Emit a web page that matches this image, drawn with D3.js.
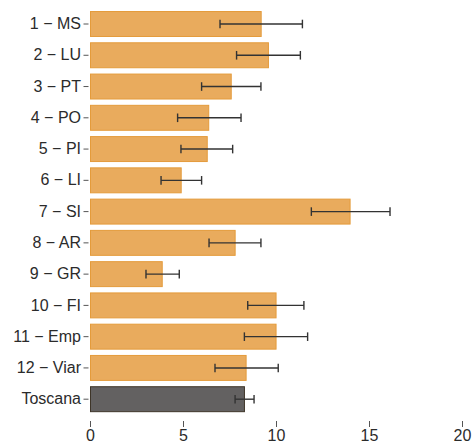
<!DOCTYPE html>
<html><head><meta charset="utf-8">
<script src="https://cdn.jsdelivr.net/npm/d3@7"></script>
<style>body{margin:0;background:#fff}svg{display:block}</style>
</head><body>
<svg id="chart" width="473" height="444"></svg>
<script>
const categories = ["1 − MS","2 − LU","3 − PT","4 − PO","5 − PI","6 − LI","7 − SI","8 − AR","9 − GR","10 − FI","11 − Emp","12 − Viar","Toscana"];
const values = [9.23,9.62,7.62,6.41,6.33,4.93,14.01,7.83,3.91,10.03,10.03,8.42,8.33];
const lower  = [6.99,7.88,6.00,4.71,4.89,3.82,11.90,6.40,3.01,8.48,8.30,6.72,7.80];
const upper  = [11.42,11.31,9.19,8.12,7.67,6.00,16.13,9.19,4.80,11.50,11.70,10.12,8.82];
const xTicks = [0,5,10,15,20];

const svg = d3.select("#chart");
const x = d3.scaleLinear().domain([0,20]).range([90,462]);
const y = d3.scaleBand().domain(categories).range([7.9,415.3]).paddingInner(0.17).paddingOuter(0.1);

const data = categories.map((c,i)=>({c, v:values[i], lo:lower[i], hi:upper[i], total:c==="Toscana"}));

svg.append("g").selectAll("rect").data(data).join("rect")
  .attr("x", x(0)+0.5)
  .attr("y", d=>y(d.c)+0.5)
  .attr("width", d=>x(d.v)-x(0)-1)
  .attr("height", y.bandwidth()-1)
  .attr("fill", d=>d.total?"#636161":"#e9ab5d")
  .attr("stroke", d=>d.total?"#3e3528":"#e49b3b")
  .attr("stroke-width",1);

const eb = svg.append("g").attr("stroke","#333").attr("stroke-width",1.4);
data.forEach(d=>{
  const cy = y(d.c)+y.bandwidth()/2;
  eb.append("line").attr("x1",x(d.lo)).attr("x2",x(d.hi)).attr("y1",cy).attr("y2",cy);
  eb.append("line").attr("x1",x(d.lo)).attr("x2",x(d.lo)).attr("y1",cy-4.3).attr("y2",cy+4.3);
  eb.append("line").attr("x1",x(d.hi)).attr("x2",x(d.hi)).attr("y1",cy-4.3).attr("y2",cy+4.3);
});

const yAxis = svg.append("g").attr("transform","translate(88.5,0)")
  .call(d3.axisLeft(y).tickSize(5).tickPadding(2.5));
yAxis.select(".domain").remove();
yAxis.selectAll("line").attr("stroke","#555");
yAxis.selectAll("text").attr("fill","#2b2b2b").style("font","16px 'Liberation Sans', Arial, sans-serif");

const xAxis = svg.append("g").attr("transform","translate(0,421)")
  .call(d3.axisBottom(x).tickValues(xTicks).tickFormat(d3.format("d")).tickSize(6).tickPadding(3));
xAxis.select(".domain").remove();
xAxis.selectAll("line").attr("stroke","#555");
xAxis.selectAll("text").attr("fill","#2b2b2b").style("font","16px 'Liberation Sans', Arial, sans-serif");
</script>
</body></html>
